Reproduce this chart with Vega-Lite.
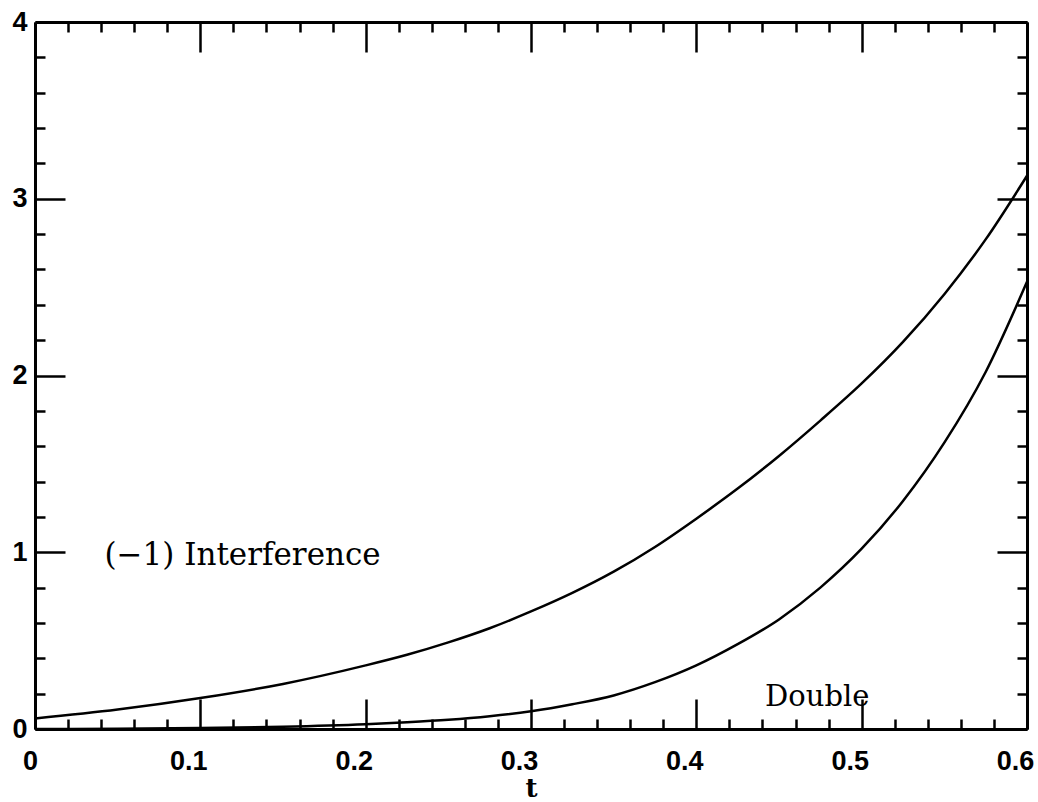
{
  "$schema": "https://vega.github.io/schema/vega-lite/v6.json",
  "width": 992,
  "height": 707,
  "autosize": "none",
  "padding": {"left": 35, "top": 22, "right": 11, "bottom": 73},
  "background": "white",
  "config": {
    "view": {"stroke": null},
    "axis": {"grid": false, "domainColor": "black", "domainWidth": 3, "tickColor": "black", "tickWidth": 2.5, "labelColor": "black", "titleColor": "black"}
  },
  "datasets": {
    "interference": [
      {"t": 0.0, "v": 0.06}, {"t": 0.05, "v": 0.11}, {"t": 0.1, "v": 0.175}, {"t": 0.15, "v": 0.255},
      {"t": 0.2, "v": 0.36}, {"t": 0.225, "v": 0.42}, {"t": 0.25, "v": 0.49}, {"t": 0.275, "v": 0.57},
      {"t": 0.3, "v": 0.665}, {"t": 0.325, "v": 0.77}, {"t": 0.35, "v": 0.89}, {"t": 0.375, "v": 1.03},
      {"t": 0.4, "v": 1.19}, {"t": 0.425, "v": 1.36}, {"t": 0.45, "v": 1.545}, {"t": 0.475, "v": 1.745},
      {"t": 0.5, "v": 1.955}, {"t": 0.525, "v": 2.19}, {"t": 0.55, "v": 2.46}, {"t": 0.575, "v": 2.77},
      {"t": 0.6, "v": 3.13}
    ],
    "double": [
      {"t": 0.0, "v": 0.0}, {"t": 0.05, "v": 0.002}, {"t": 0.1, "v": 0.006}, {"t": 0.15, "v": 0.013},
      {"t": 0.2, "v": 0.027}, {"t": 0.225, "v": 0.038}, {"t": 0.25, "v": 0.052}, {"t": 0.275, "v": 0.072},
      {"t": 0.3, "v": 0.1}, {"t": 0.325, "v": 0.14}, {"t": 0.35, "v": 0.19}, {"t": 0.375, "v": 0.265},
      {"t": 0.4, "v": 0.36}, {"t": 0.425, "v": 0.48}, {"t": 0.45, "v": 0.62}, {"t": 0.475, "v": 0.8},
      {"t": 0.5, "v": 1.02}, {"t": 0.525, "v": 1.29}, {"t": 0.55, "v": 1.62}, {"t": 0.575, "v": 2.02},
      {"t": 0.6, "v": 2.53}
    ],
    "labels": [
      {"t": 0.042, "v": 0.98, "label": "(−1) Interference", "which": "I"},
      {"t": 0.4416, "v": 0.18, "label": "Double", "which": "D"}
    ]
  },
  "resolve": {"axis": {"x": "independent", "y": "independent"}},
  "layer": [
    {
      "data": {"name": "interference"},
      "mark": {"type": "line", "color": "black", "strokeWidth": 2.5, "interpolate": "monotone"},
      "encoding": {
        "x": {"field": "t", "type": "quantitative",
          "scale": {"domain": [0, 0.6], "nice": false, "zero": false},
          "axis": {"orient": "bottom", "title": "t", "ticks": false, "domain": true,
            "values": [0, 0.1, 0.2, 0.3, 0.4, 0.5, 0.6],
            "labelExpr": "datum.value == 0 ? '0' : format(datum.value, '.1f')",
            "labelFont": "Liberation Sans", "labelFontWeight": "bold", "labelFontSize": 27,
            "labelPadding": 19, "labelFlush": false,
            "labelOffset": {"condition": {"test": "datum.value == 0", "value": -5}, "value": -12},
            "titleFont": "DejaVu Serif", "titleFontWeight": "bold", "titleFontSize": 26, "titlePadding": 1}},
        "y": {"field": "v", "type": "quantitative",
          "scale": {"domain": [0, 4], "nice": false, "zero": false},
          "axis": {"orient": "left", "title": null, "ticks": false, "domain": true,
            "values": [0, 1, 2, 3, 4], "format": "d",
            "labelFont": "Liberation Sans", "labelFontWeight": "bold", "labelFontSize": 27,
            "labelPadding": 8, "labelFlush": false}}
      }
    },
    {
      "data": {"name": "double"},
      "mark": {"type": "line", "color": "black", "strokeWidth": 2.5, "interpolate": "monotone"},
      "encoding": {
        "x": {"field": "t", "type": "quantitative",
          "axis": {"orient": "bottom", "title": null, "labels": false, "domain": false,
            "values": [0, 0.02, 0.04, 0.06, 0.08, 0.1, 0.12, 0.14, 0.16, 0.18, 0.2, 0.22, 0.24, 0.26, 0.28, 0.3, 0.32, 0.34, 0.36, 0.38, 0.4, 0.42, 0.44, 0.46, 0.48, 0.5, 0.52, 0.54, 0.56, 0.58, 0.6],
            "tickSize": {"condition": {"test": "abs(datum.value*10 - round(datum.value*10)) < 0.000001", "value": -30}, "value": -10}}},
        "y": {"field": "v", "type": "quantitative",
          "axis": {"orient": "left", "title": null, "labels": false, "domain": false,
            "values": [0, 0.2, 0.4, 0.6, 0.8, 1, 1.2, 1.4, 1.6, 1.8, 2, 2.2, 2.4, 2.6, 2.8, 3, 3.2, 3.4, 3.6, 3.8, 4],
            "tickSize": {"condition": {"test": "abs(datum.value - round(datum.value)) < 0.000001", "value": -30}, "value": -10}}}
      }
    },
    {
      "data": {"name": "labels"},
      "transform": [{"filter": "datum.which == 'I'"}],
      "mark": {"type": "text", "align": "left", "baseline": "middle", "font": "DejaVu Serif", "fontSize": 31, "color": "black"},
      "encoding": {
        "x": {"field": "t", "type": "quantitative",
          "axis": {"orient": "top", "title": null, "labels": false, "domain": true,
            "values": [0, 0.02, 0.04, 0.06, 0.08, 0.1, 0.12, 0.14, 0.16, 0.18, 0.2, 0.22, 0.24, 0.26, 0.28, 0.3, 0.32, 0.34, 0.36, 0.38, 0.4, 0.42, 0.44, 0.46, 0.48, 0.5, 0.52, 0.54, 0.56, 0.58, 0.6],
            "tickSize": {"condition": {"test": "abs(datum.value*10 - round(datum.value*10)) < 0.000001", "value": -30}, "value": -10}}},
        "y": {"field": "v", "type": "quantitative",
          "axis": {"orient": "right", "title": null, "labels": false, "domain": true,
            "values": [0, 0.2, 0.4, 0.6, 0.8, 1, 1.2, 1.4, 1.6, 1.8, 2, 2.2, 2.4, 2.6, 2.8, 3, 3.2, 3.4, 3.6, 3.8, 4],
            "tickSize": {"condition": {"test": "abs(datum.value - round(datum.value)) < 0.000001", "value": -30}, "value": -10}}},
        "text": {"field": "label"}
      }
    },
    {
      "data": {"name": "labels"},
      "transform": [{"filter": "datum.which == 'D'"}],
      "mark": {"type": "text", "align": "left", "baseline": "middle", "font": "DejaVu Serif", "fontSize": 29, "color": "black"},
      "encoding": {
        "x": {"field": "t", "type": "quantitative", "axis": null},
        "y": {"field": "v", "type": "quantitative", "axis": null},
        "text": {"field": "label"}
      }
    }
  ]
}
